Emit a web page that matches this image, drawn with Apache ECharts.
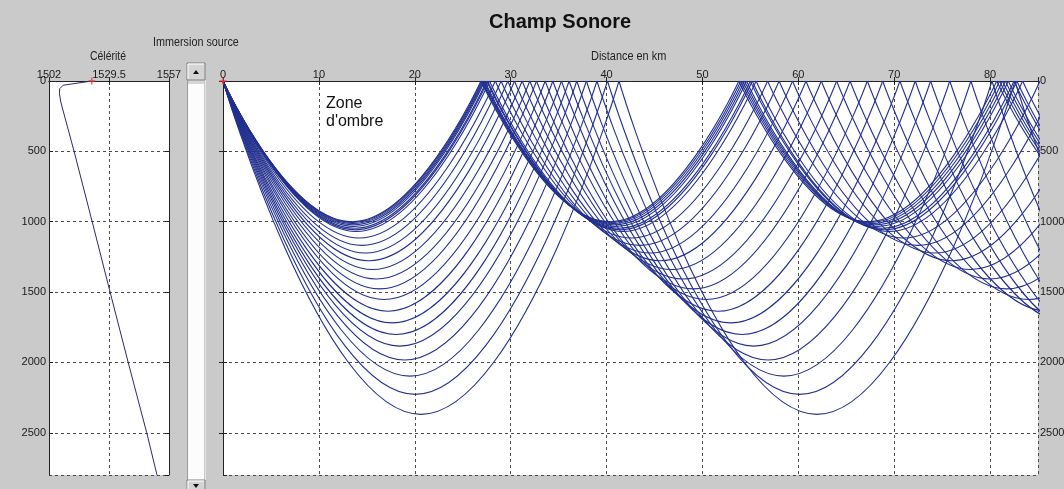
<!DOCTYPE html>
<html>
<head>
<meta charset="utf-8">
<title>Champ Sonore</title>
<script src="https://cdn.jsdelivr.net/npm/echarts/dist/echarts.min.js"></script>
<style>
  html, body { margin: 0; padding: 0; background: #cacaca; }
  #chart { width: 1064px; height: 489px; }
</style>
</head>
<body>
<div id="chart"></div>
<script>
// profil de célérité (profondeur en m, célérité en m/s)
const profileDepth = [0, 30, 55, 90, 150, 500, 1000, 1500, 2000, 2500, 2800];
const profileSpeed = [1521.6, 1508.5, 1506.9, 1506.8, 1507.4, 1513.5, 1521.8, 1530.0, 1538.3, 1546.8, 1551.5];
const sourceSpeed = 1521.6;
const sourceDepth = 0;

// rayons : profondeur du point bas (m) et distance entre deux rebonds en surface (km)
const rayDepth = [1000, 1005, 1012, 1022, 1033, 1046, 1057, 1069, 1116, 1168, 1222, 1277, 1340, 1407, 1477, 1553, 1636, 1719, 1801, 1884, 1983, 2097, 2227, 2369];
const raySkip = [26.9, 27.0, 27.1, 27.2, 27.3, 27.5, 27.6, 27.8, 28.4, 29.0, 29.7, 30.4, 31.2, 32.0, 32.7, 33.6, 34.4, 35.3, 36.1, 36.9, 37.9, 39.0, 40.1, 41.3];

const speedTicks = [1502, 1557, 27.5];
const depthTicks = [0, 2800, 500];
const distTicks = [0, 85, 10];

const FONT = "Liberation Sans";
const gridLine = { show: true, lineStyle: { color: "#4a4a4a", type: [3, 3], width: 1 } };
const tickIn = { show: true, inside: true, length: 4, lineStyle: { color: "#222" } };
const label = { color: "#1a1a1a", fontSize: 11, fontFamily: FONT, formatter: v => String(v) };

const chart = echarts.init(document.getElementById("chart"));

// un arc par trajet surface -> point bas -> surface
const raySeries = [];
rayDepth.forEach((d, i) => {
  const skip = raySkip[i];
  for (let x0 = 0; x0 < distTicks[1]; x0 += skip) {
    raySeries.push({
      type: "line",
      xAxisIndex: 2,
      yAxisIndex: 2,
      smooth: 0.5,
      symbol: "none",
      silent: true,
      data: [[x0, 0], [x0 + skip / 2, d], [x0 + skip, 0]],
      lineStyle: { color: "#22308e", width: 1.1 }
    });
  }
});

const star = "path://M-1,-5L1,-5L1,-1L5,-1L5,1L1,1L1,5L-1,5L-1,1L-5,1L-5,-1L-1,-1Z";

const option = {
  backgroundColor: "#cacaca",
  animation: false,
  textStyle: { fontFamily: FONT },
  grid: [
    { left: 49, top: 81, width: 120, height: 394, show: true, backgroundColor: "#fff", borderWidth: 0, outerBoundsMode: "none", containLabel: false },
    { left: 223, top: 81, width: 815, height: 394, show: true, backgroundColor: "#fff", borderWidth: 0, outerBoundsMode: "none", containLabel: false }
  ],
  xAxis: [
    {
      gridIndex: 0, type: "value", position: "top",
      min: speedTicks[0], max: speedTicks[1], interval: speedTicks[2],
      axisLine: { show: true, lineStyle: { color: "#333", type: [3, 3] } },
      axisTick: tickIn,
      axisLabel: Object.assign({ margin: 1 }, label),
      splitLine: gridLine
    },
    {
      gridIndex: 0, type: "value", position: "bottom",
      min: speedTicks[0], max: speedTicks[1], interval: speedTicks[2],
      axisLine: { show: true, lineStyle: { color: "#222" } },
      axisTick: tickIn, axisLabel: { show: false }, splitLine: { show: false }
    },
    {
      gridIndex: 1, type: "value", position: "top",
      min: distTicks[0], max: distTicks[1], interval: distTicks[2],
      axisLine: { show: true, lineStyle: { color: "#333", type: [3, 3] } },
      axisTick: tickIn,
      axisLabel: Object.assign({ margin: 1, showMaxLabel: false }, label),
      splitLine: gridLine
    },
    {
      gridIndex: 1, type: "value", position: "bottom",
      min: distTicks[0], max: distTicks[1], interval: distTicks[2],
      axisLine: { show: true, lineStyle: { color: "#222" } },
      axisTick: tickIn, axisLabel: { show: false }, splitLine: { show: false }
    }
  ],
  yAxis: [
    {
      gridIndex: 0, type: "value", position: "left", inverse: true,
      min: depthTicks[0], max: depthTicks[1], interval: depthTicks[2],
      axisLine: { show: true, lineStyle: { color: "#222" } },
      axisTick: tickIn,
      axisLabel: Object.assign({ margin: 3, showMaxLabel: false }, label),
      splitLine: gridLine
    },
    {
      gridIndex: 0, type: "value", position: "right", inverse: true,
      min: depthTicks[0], max: depthTicks[1], interval: depthTicks[2],
      axisLine: { show: true, lineStyle: { color: "#222" } },
      axisTick: tickIn, axisLabel: { show: false }, splitLine: { show: false }
    },
    {
      gridIndex: 1, type: "value", position: "right", inverse: true,
      min: depthTicks[0], max: depthTicks[1], interval: depthTicks[2],
      axisLine: { show: true, lineStyle: { color: "#222" } },
      axisTick: tickIn,
      axisLabel: Object.assign({ margin: 2, showMaxLabel: false }, label),
      splitLine: gridLine
    },
    {
      gridIndex: 1, type: "value", position: "left", inverse: true,
      min: depthTicks[0], max: depthTicks[1], interval: depthTicks[2],
      axisLine: { show: true, lineStyle: { color: "#222" } },
      axisTick: tickIn, axisLabel: { show: false }, splitLine: { show: false }
    }
  ],
  series: [
    {
      type: "line",
      xAxisIndex: 0,
      yAxisIndex: 0,
      symbol: "none",
      silent: true,
      data: profileDepth.map((z, i) => [profileSpeed[i], z]),
      lineStyle: { color: "#2a2a6a", width: 1 }
    },
    ...raySeries,
    {
      type: "scatter", xAxisIndex: 0, yAxisIndex: 0, clip: false, z: 5,
      symbol: star, symbolSize: 7, itemStyle: { color: "#ff2a2a" },
      data: [[sourceSpeed, sourceDepth]]
    },
    {
      type: "scatter", xAxisIndex: 2, yAxisIndex: 2, clip: false, z: 5,
      symbol: star, symbolSize: 7, itemStyle: { color: "#ff2a2a" },
      data: [[0, sourceDepth]]
    }
  ],
  graphic: [
    { type: "text", left: 489, top: 12, style: { text: "Champ Sonore", font: "bold 20px " + FONT, fill: "#111" } },
    { type: "text", x: 153, y: 37, scaleX: 0.9, style: { text: "Immersion source", font: "12px " + FONT, fill: "#222" } },
    { type: "text", x: 90, y: 51, scaleX: 0.87, style: { text: "Célérité", font: "12px " + FONT, fill: "#222" } },
    { type: "text", x: 591, y: 51, scaleX: 0.91, style: { text: "Distance en km", font: "12px " + FONT, fill: "#222" } },
    { type: "text", x: 326, y: 95, style: { text: "Zone\nd'ombre", font: "16px " + FONT, fill: "#111", lineHeight: 18 } },
    // ascenseur "Immersion source"
    { type: "rect", shape: { x: 188, y: 80, width: 16, height: 400 }, style: { fill: "#fcfcfc" } },
    { type: "line", shape: { x1: 187.5, y1: 80, x2: 187.5, y2: 480 }, style: { stroke: "#9a9a9a", lineWidth: 1 } },
    { type: "line", shape: { x1: 205.5, y1: 80, x2: 205.5, y2: 480 }, style: { stroke: "#e2e2e2", lineWidth: 1 } },
    { type: "rect", shape: { x: 188, y: 80, width: 16, height: 4 }, style: { fill: "#d6d6d6" } },
    { type: "rect", shape: { x: 187, y: 63, width: 18, height: 17 }, style: { fill: "#d4d4d4", stroke: "#808080", lineWidth: 1 } },
    { type: "polyline", shape: { points: [[188, 79], [188, 64], [204, 64]] }, style: { stroke: "#fff", lineWidth: 1 } },
    { type: "polygon", shape: { points: [[193, 74], [199, 74], [196, 70]] }, style: { fill: "#111" } },
    { type: "rect", shape: { x: 187, y: 480, width: 18, height: 12 }, style: { fill: "#d4d4d4", stroke: "#808080", lineWidth: 1 } },
    { type: "polyline", shape: { points: [[188, 491], [188, 481], [204, 481]] }, style: { stroke: "#fff", lineWidth: 1 } },
    { type: "polygon", shape: { points: [[193, 484], [199, 484], [196, 488]] }, style: { fill: "#111" } }
  ]
};

chart.setOption(option);
</script>
</body>
</html>
